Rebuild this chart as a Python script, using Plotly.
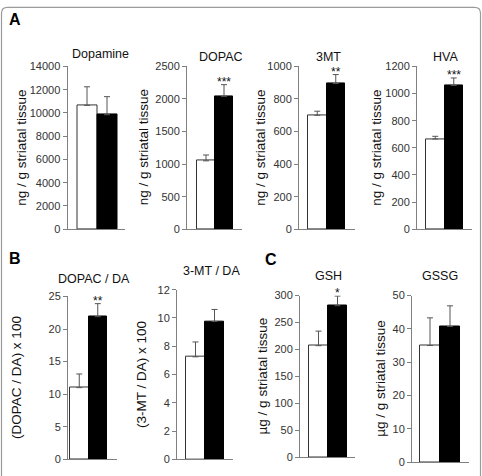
import plotly.graph_objects as go

W, H = 482, 476

# ---- data ----
panel_titles = ["Dopamine", "DOPAC", "3MT", "HVA", "DOPAC / DA", "3-MT / DA", "GSH", "GSSG"]
y_titles = ["ng / g striatal tissue"] * 4 + ["(DOPAC / DA) x 100", "(3-MT / DA) x 100",
                                             "µg / g striatal tissue", "µg / g striatal tissue"]
control_means = [10650, 1050, 700, 665, 11.0, 7.25, 207, 35.0]
control_errs = [1600, 90, 25, 20, 2.1, 1.05, 27, 8.3]
treated_means = [9850, 2040, 895, 1060, 21.9, 9.75, 281, 40.7]
treated_errs = [1550, 180, 55, 55, 2.0, 0.85, 18, 6.2]
stars = ["", "***", "**", "***", "**", "", "*", ""]
y_max = [14000, 2500, 1000, 1200, 25, 12, 300, 50]
y_dtick = [2000, 500, 200, 200, 5, 2, 50, 10]
panel_letters = ["A", "B", "C"]

# ---- geometry (pixels): axis_x, white_left, black_right, x_end, y_top, y_zero ----
geom = [
    (67.5, 77, 117, 125, 62, 229),
    (187, 197, 233, 242, 62, 229),
    (299, 308, 345, 355, 62, 229),
    (417, 426, 463, 472, 62, 229),
    (68, 70, 107, 117, 298, 465),
    (177, 186, 224, 233, 291, 465),
    (300, 309, 347, 355, 297, 463),
    (412, 420, 460, 469, 297, 468),
]
title_pos = [(100, 49), (221, 52), (328, 52), (445, 52), (94, 280), (211, 272), (328, 277), (440, 277)]
ytitle_x = [22, 143.5, 261, 377, 17, 141.5, 262, 381]
letter_pos = [(7, 14), (7, 259), (263, 260)]

FONT = "Liberation Sans, Arial, sans-serif"
AX = "#808080"

def px(x):
    return x / W

def py(y):
    return 1 - y / H

fig = go.Figure()
layout = dict(
    width=W, height=H, margin=dict(l=0, r=0, t=0, b=0),
    paper_bgcolor="white", plot_bgcolor="white", showlegend=False,
    font=dict(family=FONT, color="#222"), bargap=0,
)
annotations = []

for i in range(8):
    ax_x, wl, br, xe, yt, yz = geom[i]
    bw = (br - wl) / 2
    xr = [-0.5 - (wl - ax_x) / bw, 1.5 + (xe - br) / bw]
    sfx = "" if i == 0 else str(i + 1)
    xa, ya = "x" + sfx, "y" + sfx
    fig.add_trace(go.Bar(
        x=[0, 1], y=[control_means[i], treated_means[i]], width=[1, 1],
        marker=dict(color=["white", "black"], line=dict(color=["#333", "black"], width=1)),
        error_y=dict(type="data", symmetric=False,
                     array=[control_errs[i], treated_errs[i]], arrayminus=[0, 0],
                     color="#555", thickness=1, width=3),
        xaxis=xa, yaxis=ya, hoverinfo="skip",
    ))
    layout["xaxis" + sfx] = dict(
        domain=[px(ax_x), px(xe)], range=xr, showline=True, linecolor=AX, linewidth=1,
        showticklabels=False, ticks="", showgrid=False, zeroline=False, anchor=ya, fixedrange=True,
    )
    layout["yaxis" + sfx] = dict(
        domain=[py(yz), py(yt)], range=[0, y_max[i]], dtick=y_dtick[i], tick0=0, tickformat="d",
        showline=True, linecolor=AX, linewidth=1, ticks="outside", ticklen=4, tickcolor=AX,
        tickfont=dict(size=11, color="#333", family=FONT), showgrid=False, zeroline=False,
        anchor=xa, fixedrange=True,
    )
    tx, ty = title_pos[i]
    annotations.append(dict(text=panel_titles[i], x=px(tx), y=py(ty), xref="paper", yref="paper",
                            xanchor="center", yanchor="middle", showarrow=False,
                            font=dict(size=12.5, color="#111", family=FONT)))
    annotations.append(dict(text=y_titles[i], x=px(ytitle_x[i]), y=py((yt + yz) / 2),
                            xref="paper", yref="paper", textangle=-90,
                            xanchor="center", yanchor="middle", showarrow=False,
                            font=dict(size=13.5, color="#111", family=FONT)))
    if stars[i]:
        annotations.append(dict(text=stars[i], x=1, y=treated_means[i] + treated_errs[i],
                                xref=xa, yref=ya, xanchor="center", yanchor="bottom",
                                yshift=-6, showarrow=False,
                                font=dict(size=12, color="#111", family=FONT)))

for L, (lx, ly) in zip(panel_letters, letter_pos):
    annotations.append(dict(text="<b>" + L + "</b>", x=px(lx), y=py(ly), xref="paper", yref="paper",
                            xanchor="left", yanchor="middle", showarrow=False,
                            font=dict(size=16, color="black", family=FONT)))

layout["annotations"] = annotations

# figure frame (rounded top corners)
x0, x1 = px(1.5), px(480.5)
ytop = py(1.5)
rx, ry = 6 / W, 6 / H
path = (f"M {x0},-0.05 L {x0},{ytop - ry} Q {x0},{ytop} {x0 + rx},{ytop} "
        f"L {x1 - rx},{ytop} Q {x1},{ytop} {x1},{ytop - ry} L {x1},-0.05")
layout["shapes"] = [dict(type="path", path=path, xref="paper", yref="paper",
                         line=dict(color="#9a9a9a", width=1.2))]

fig.update_layout(**layout)
fig.write_html("out.html")
